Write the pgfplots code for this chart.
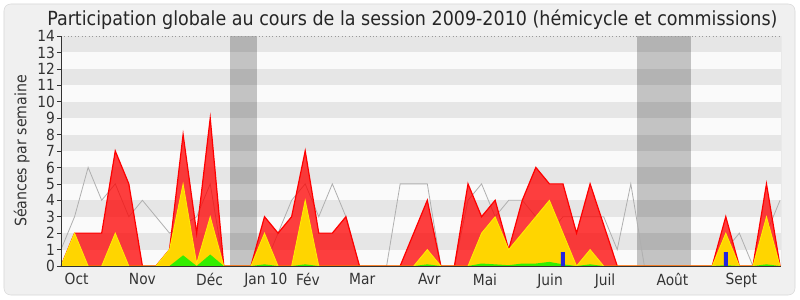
\documentclass[border=0pt]{standalone}
\usepackage{pgfplots}
\usepackage{pgfplotstable}
\pgfplotsset{compat=1.18}
\usepackage{fontspec}
\setmainfont{DejaVu Sans Condensed}
\definecolor{panel}{HTML}{F0F0F0}
\definecolor{panelborder}{HTML}{D8D8D8}
\definecolor{stripe}{HTML}{E6E6E6}
\definecolor{stripew}{HTML}{FAFAFA}
\definecolor{redfill}{HTML}{FF0000}
\definecolor{yelfill}{HTML}{FFD500}
\definecolor{yelline}{HTML}{FFEE00}
\definecolor{grnfill}{HTML}{33EE00}
\definecolor{grayline}{HTML}{AFAFAF}
\definecolor{bluebar}{HTML}{2424DD}

\pgfplotstableread{
w red yel grn gry
0 0 0 0 1
1 2 2 0 3
2 2 0 0 6
3 2 0 0 4
4 7 2 0 5
5 5 0 0 3
6 0 0 0 4
7 0 0 0 3
8 1 1 0 2
9 8 5 0.65 2.5
10 2 0.15 0 3
11 9 3 0.7 5
12 0 0 0 0
13 0 0 0 0
14 0 0 0 0
15 3 2 0.1 0
16 2 0 0 2
17 3 0 0 4
18 7 4 0.1 5
19 2 0 0 3
20 2 0 0 5
21 3 0 0 3
22 0 0 0 0
23 0 0 0 0
24 0 0 0 0
25 0 0 0 5
26 2 0 0 5
27 4 1 0.1 5
28 0 0 0 0
29 0 0 0 0
30 5 0 0 4
31 3 2 0.15 5
32 4 3 0.1 3
33 1 1 0.05 4
34 4 2 0.15 4
35 6 3 0.15 3
36 5 4 0.25 2
37 5 2 0.1 3
38 2 0 0 3
39 5 1 0.1 3
40 2.5 0 0 3
41 0 0 0 1
42 0 0 0 5
43 0 0 0 0
44 0 0 0 0
45 0 0 0 0
46 0 0 0 0
47 0 0 0 0
48 0 0 0 0
49 3 2 0.05 1
50 0 0 0 2
51 0 0 0 0
52 5 3 0.1 2
53 0 0 0 4
}\sessdata

\begin{document}
\begin{tikzpicture}
% 1 px = 0.75 pt ; origin = lower-left corner of plot area (px 61,266)
\fill[white] (-45.75pt,-25.5pt) rectangle (554.25pt,199.5pt);
\filldraw[fill=panel, draw=panelborder, rounded corners=5pt] (-42.75pt,-21.75pt) rectangle (550.5pt,196.5pt);
\begin{axis}[
  at={(0pt,0pt)}, anchor=south west,
  scale only axis, width=540pt, height=172.5pt,
  xmin=0, xmax=53.07, ymin=0, ymax=14,
  axis on top,
  axis lines*=left,
  axis line style={draw=black!80, line width=0.6pt},
  axis background/.style={fill=stripew},
  tick align=outside,
  major tick length=3pt, minor tick length=3pt,
  tick style={black!80, line width=0.5pt},
  ytick={0,...,14},
  minor xtick={0,...,53},
  xtick={1.15,6,10.95,15.1,18.2,22.2,27.15,31.25,36.05,40.1,45.07,50.15},
  xticklabels={Oct,Nov,Déc,Jan 10,Fév,Mar,Avr,Mai,Juin,Juil,Août,Sept},
  xtick style={draw=none},
  /pgf/number format/assume math mode=true,
  ticklabel style={font=\fontsize{11.5}{12}\selectfont, text=black!80},
  yticklabel style={xshift=2pt},
  xticklabel style={yshift=1pt},
  ylabel={Séances par semaine},
  ylabel style={font=\fontsize{11.8}{12}\selectfont, text=black!80, yshift=-1pt},
]
\fill[stripe] (axis cs:0,1) rectangle (axis cs:53.07,2);
\fill[stripe] (axis cs:0,3) rectangle (axis cs:53.07,4);
\fill[stripe] (axis cs:0,5) rectangle (axis cs:53.07,6);
\fill[stripe] (axis cs:0,7) rectangle (axis cs:53.07,8);
\fill[stripe] (axis cs:0,9) rectangle (axis cs:53.07,10);
\fill[stripe] (axis cs:0,11) rectangle (axis cs:53.07,12);
\fill[stripe] (axis cs:0,13) rectangle (axis cs:53.07,14);
\fill[black, fill opacity=0.22] (axis cs:12.45,0) rectangle (axis cs:14.45,14);
\fill[black, fill opacity=0.22] (axis cs:42.47,0) rectangle (axis cs:46.47,14);
\draw[black!40, dotted, line width=0.6pt] (rel axis cs:0,1) -- (rel axis cs:1,1);
\draw[black!25, line width=0.6pt] (rel axis cs:1,0) -- (rel axis cs:1,1);

\addplot[grayline, line width=0.6pt] table[x=w, y=gry] {\sessdata};
\addplot[draw=redfill, line width=0.9pt, fill=redfill, fill opacity=0.75] table[x=w, y=red] {\sessdata} \closedcycle;
\addplot[draw=yelline, line width=0.6pt, fill=yelfill] table[x=w, y=yel] {\sessdata} \closedcycle;
\addplot[draw=none, fill=grnfill] table[x=w, y=grn] {\sessdata} \closedcycle;
\addplot[ybar, bar width=3pt, fill=bluebar, draw=none] coordinates {(37,0.85) (49,0.85)};
\end{axis}
\node[anchor=base, font=\fontsize{14.6}{15}\selectfont, text=black!85] at (263.6pt,180pt) {Participation globale au cours de la session 2009-2010 (hémicycle et commissions)};
\pgfresetboundingbox
\useasboundingbox (-45.75pt,-25.5pt) rectangle (554.25pt,199.5pt);
\end{tikzpicture}
\end{document}
